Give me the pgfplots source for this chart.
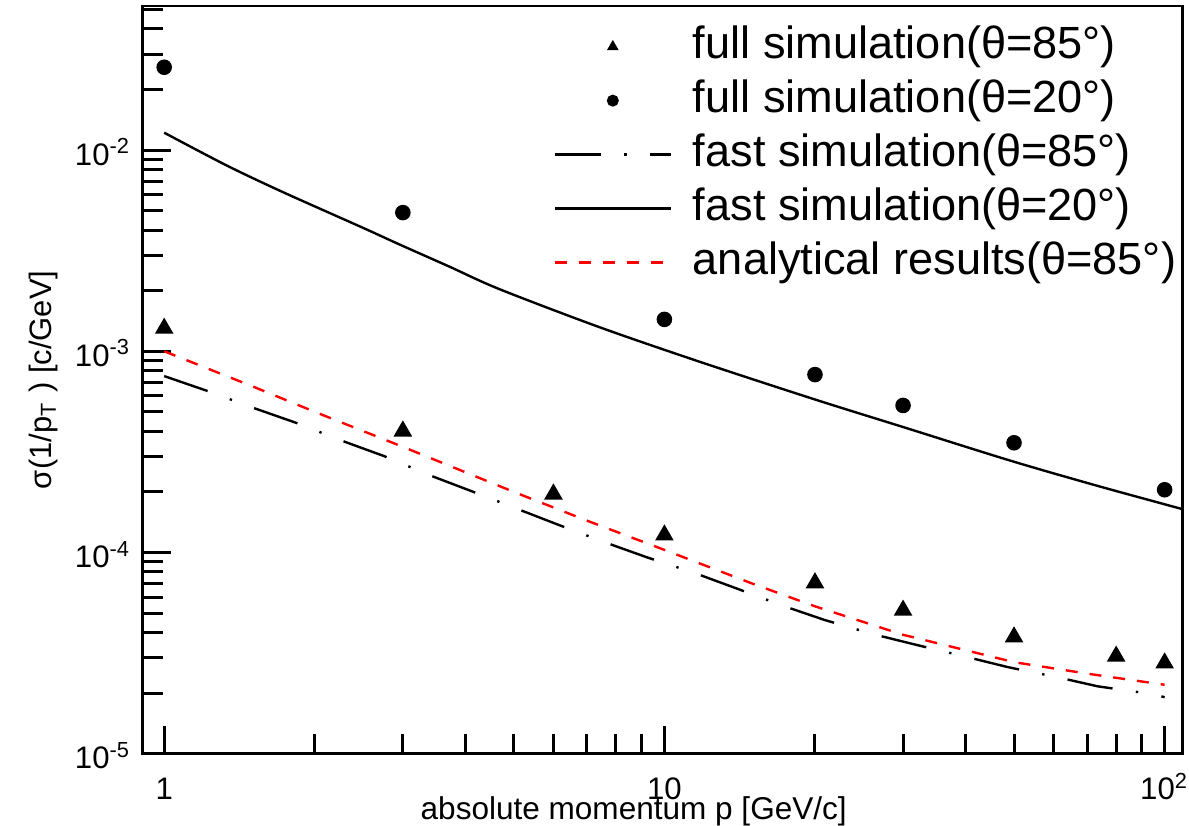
\documentclass[border=0pt]{standalone}
\usepackage{fontspec}
\setmainfont{Liberation Sans}
\usepackage{pgfplots}
\pgfplotsset{compat=1.18}

\pgfplotsset{
  lineleg/.style={legend image code/.code={\draw[##1] (0pt,0pt) -- (29pt,0pt);}},
  markleg/.style={legend image code/.code={\draw[##1, mark size=1.3pt] plot coordinates {(14.5pt,0pt)};}},
}

\begin{document}
\begin{tikzpicture}
\begin{axis}[
    xmode=log, ymode=log,
    scale only axis,
    width=260.5pt, height=187.25pt,
    xmin=0.906, xmax=108.8,
    ymin=1e-5, ymax=0.052,
    axis line style={line width=0.75pt},
    every tick/.style={line width=0.75pt, black},
    tick pos=left, tick align=inside,
    major tick length=7pt, minor tick length=5pt,
    xtick={1,10,100},
    xticklabels={1,10,10\textsuperscript{2}},
    minor xtick={2,3,4,5,6,7,8,9,20,30,40,50,60,70,80,90},
    ytick={1e-5,1e-4,1e-3,1e-2},
    yticklabels={10\textsuperscript{-5},10\textsuperscript{-4},10\textsuperscript{-3},10\textsuperscript{-2}},
    minor ytick={2e-5,3e-5,4e-5,5e-5,6e-5,7e-5,8e-5,9e-5,
                 2e-4,3e-4,4e-4,5e-4,6e-4,7e-4,8e-4,9e-4,
                 2e-3,3e-3,4e-3,5e-3,6e-3,7e-3,8e-3,9e-3,
                 2e-2,3e-2,4e-2,5e-2},
    xticklabel style={font=\fontsize{7.8}{9}\selectfont, inner sep=0pt, anchor=base, yshift=-11.5pt},
    yticklabel style={font=\fontsize{7.8}{9}\selectfont, inner sep=0pt, anchor=base east, xshift=-2.75pt, yshift=-3.75pt},
    xlabel={absolute momentum p [GeV/c]},
    xlabel style={font=\fontsize{7.9}{9}\selectfont, inner sep=0pt, at={(axis description cs:0.472,0)}, anchor=north, yshift=-10.5pt},
    ylabel={σ(1/p\textsubscript{T} ) [c/GeV]},
    ylabel style={font=\fontsize{7.75}{9}\selectfont, inner sep=0pt, at={(axis description cs:-0.095,0.5)}, anchor=center},
    legend style={draw=none, fill=none, at={(axis description cs:1,1)}, anchor=north east,
        xshift=-1.5pt, yshift=-4.5pt, inner sep=0pt,
        font=\fontsize{11.3}{13.5}\selectfont,
        nodes={inner sep=0pt, text height=8.5pt, text depth=2.5pt},
        row sep=2.5pt, column sep=5.25pt},
    legend cell align=left,
]
% full simulation, theta = 85 deg
\addplot[only marks, mark=triangle*, mark size=2.3pt, black, markleg] coordinates {
    (1,1.30e-3) (3,4.01e-4) (6,1.95e-4) (10,1.22e-4) (20,7.06e-5)
    (30,5.16e-5) (50,3.80e-5) (80,3.05e-5) (100,2.82e-5)
};
% full simulation, theta = 20 deg
\addplot[only marks, mark=*, mark size=1.75pt, black, markleg] coordinates {
    (1,2.58e-2) (3,4.89e-3) (10,1.44e-3) (20,7.66e-4)
    (30,5.38e-4) (50,3.51e-4) (100,2.05e-4)
};
% fast simulation, theta = 85 deg
\addplot[black, line width=0.6pt, dash pattern=on 11.5pt off 5.9pt on 0.6pt off 5.9pt, lineleg] coordinates {
    (1,7.53e-4) (1.22,6.35e-4) (1.515,5.21e-4) (1.835,4.41e-4) (2.275,3.58e-4)
    (2.755,3.01e-4) (3.38,2.43e-4) (4.13,2.01e-4) (5.04,1.66e-4) (6.15,1.37e-4)
    (7.63,1.12e-4) (9.24,9.45e-5) (11.5,7.9e-5) (14.0,6.6e-5) (17.2,5.45e-5)
    (20.9,4.62e-5) (26.0,3.94e-5) (31.8,3.48e-5) (39.9,3.04e-5) (48.7,2.69e-5)
    (61.0,2.40e-5) (73.6,2.16e-5) (93.0,1.99e-5) (100,1.91e-5)
};
% fast simulation, theta = 20 deg
\addplot[black, line width=0.6pt, smooth, lineleg] coordinates {
    (1.0,1.22e-2) (1.33,8.41e-3) (1.72,6.21e-3) (2.49,4.12e-3) (2.95,3.40e-3)
    (3.71,2.64e-3) (4.67,2.04e-3) (7.40,1.32e-3) (11.7,8.91e-4) (20.0,5.76e-4)
    (30.3,4.17e-4) (49.4,2.85e-4) (73.6,2.14e-4) (108.8,1.64e-4)
};
% analytical results, theta = 85 deg
\addplot[red, line width=0.6pt, dash pattern=on 3pt off 3pt, lineleg] coordinates {
    (1,1.00e-3) (1.5,6.7e-4) (2,5.0e-4) (3,3.35e-4) (5,2.0e-4) (7,1.44e-4)
    (10,1.03e-4) (15,7.0e-5) (20,5.4e-5) (30,3.9e-5) (50,2.85e-5) (70,2.5e-5) (100,2.2e-5)
};
\legend{full simulation(θ=85°), full simulation(θ=20°), fast simulation(θ=85°),
        fast simulation(θ=20°), analytical results(θ=85°)}
\end{axis}
\path (current axis.south west) ++(-35.75pt,-17pt) rectangle ++(297.25pt,205.75pt);
\end{tikzpicture}
\end{document}
